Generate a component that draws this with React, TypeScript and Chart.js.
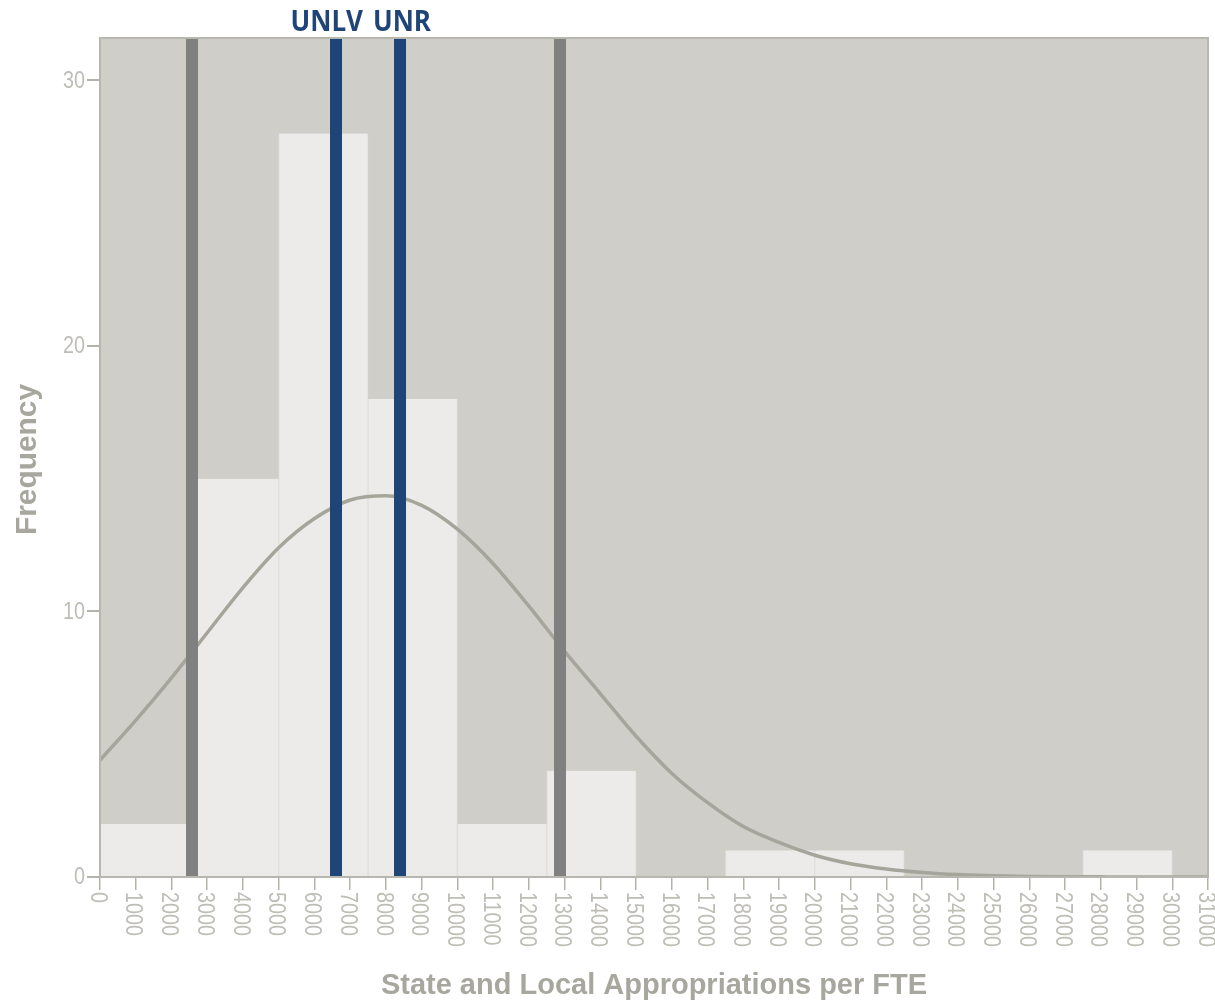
import React, { useEffect, useRef } from 'react';
import { Chart, registerables } from 'chart.js';

Chart.register(...registerables);

// Histogram bins (State and Local Appropriations per FTE)
const binEdges = [0, 2500, 5000, 7500, 10000, 12500, 15000, 17500, 20000, 22500, 25000, 27500, 30000];
const binCounts = [2, 15, 28, 18, 2, 4, 0, 1, 1, 0, 0, 1];

// Fitted normal curve
const curveX = [0, 1000, 2000, 3000, 4000, 5000, 6000, 7000, 8000, 9000, 10000, 11000, 12000, 13000, 14000, 15000,
  16000, 17000, 18000, 19000, 20000, 21000, 22000, 23000, 24000, 25000, 26000, 27000, 28000, 29000, 30000, 31000];
const curveY = [4.4, 5.9, 7.5, 9.2, 10.9, 12.4, 13.5, 14.2, 14.36, 14.0, 13.1, 11.8, 10.2, 8.5, 6.9, 5.3,
  3.9, 2.8, 1.9, 1.3, 0.82, 0.5, 0.3, 0.17, 0.09, 0.05, 0.02, 0.01, 0.005, 0, 0, 0];

// Reference lines
const sdLines = [2574, 12870];
const campusLines = [6603, 8394];
const campusLabels = ['UNLV', 'UNR'];

// Axes
const xTickValues = [0, 1000, 2000, 3000, 4000, 5000, 6000, 7000, 8000, 9000, 10000, 11000, 12000, 13000, 14000, 15000,
  16000, 17000, 18000, 19000, 20000, 21000, 22000, 23000, 24000, 25000, 26000, 27000, 28000, 29000, 30000, 31000];
const xTickLabels = ['0', '1000', '2000', '3000', '4000', '5000', '6000', '7000', '8000', '9000', '10000', '11000',
  '12000', '13000', '14000', '15000', '16000', '17000', '18000', '19000', '20000', '21000', '22000', '23000', '24000',
  '25000', '26000', '27000', '28000', '29000', '30000', '31000'];
const yTickValues = [0, 10, 20, 30];
const yTickLabels = ['0', '10', '20', '30'];
const xMin = 0;
const xMax = 31000;
const yMax = 31.6;
const xTitle = 'State and Local Appropriations per FTE';
const yTitle = 'Frequency';

export default function App() {
  const ref = useRef<HTMLCanvasElement>(null);

  useEffect(() => {
    const canvas = ref.current;
    if (!canvas) return;

    const tickFont = '23px "Liberation Sans"';
    const tickColor = '#BEBDB6';
    const squeeze = 0.86;

    const overlay = {
      id: 'overlay',
      beforeDraw(chart: any) {
        const { ctx, chartArea: a } = chart;
        ctx.save();
        ctx.fillStyle = '#CFCEC9';
        ctx.fillRect(a.left, a.top, a.right - a.left, a.bottom - a.top);
        ctx.restore();
      },
      afterDatasetsDraw(chart: any) {
        const { ctx, chartArea: a, scales } = chart;
        const x = scales.x;
        ctx.save();
        ctx.lineWidth = 12;
        ctx.lineCap = 'butt';
        ctx.strokeStyle = '#808080';
        sdLines.forEach((v) => {
          const px = x.getPixelForValue(v);
          ctx.beginPath();
          ctx.moveTo(px, a.top);
          ctx.lineTo(px, a.bottom);
          ctx.stroke();
        });
        ctx.strokeStyle = '#1F4477';
        campusLines.forEach((v) => {
          const px = x.getPixelForValue(v);
          ctx.beginPath();
          ctx.moveTo(px, a.top);
          ctx.lineTo(px, a.bottom);
          ctx.stroke();
        });
        // frame
        ctx.lineWidth = 2;
        ctx.strokeStyle = '#B8B7AF';
        ctx.strokeRect(a.left, a.top, a.right - a.left, a.bottom - a.top);

        // campus labels
        const p1 = x.getPixelForValue(campusLines[0]);
        const p2 = x.getPixelForValue(campusLines[1]);
        const mid = (p1 + p2) / 2;
        ctx.fillStyle = '#1F4477';
        ctx.font = 'bold 28px "Open Sans"';
        ctx.textBaseline = 'alphabetic';
        ctx.save();
        ctx.translate(mid - 5, 31);
        ctx.scale(0.93, 1);
        ctx.textAlign = 'right';
        ctx.fillText(campusLabels[0], 0, 0);
        ctx.restore();
        ctx.save();
        ctx.translate(mid + 5, 31);
        ctx.scale(0.93, 1);
        ctx.textAlign = 'left';
        ctx.fillText(campusLabels[1], 0, 0);
        ctx.restore();
        ctx.restore();
      },
      afterDraw(chart: any) {
        const { ctx, chartArea: a, scales } = chart;
        const x = scales.x;
        const y = scales.y;
        ctx.save();
        ctx.fillStyle = tickColor;
        ctx.font = tickFont;
        // x tick labels, rotated clockwise
        ctx.textAlign = 'left';
        ctx.textBaseline = 'middle';
        xTickValues.forEach((v, i) => {
          const px = x.getPixelForValue(v);
          ctx.save();
          ctx.translate(px - 3, a.bottom + 15);
          ctx.rotate(Math.PI / 2);
          ctx.scale(squeeze, 1);
          ctx.fillText(xTickLabels[i], 0, 0);
          ctx.restore();
        });
        // y tick labels
        ctx.textAlign = 'right';
        ctx.textBaseline = 'middle';
        yTickValues.forEach((v, i) => {
          const py = y.getPixelForValue(v);
          ctx.save();
          ctx.translate(a.left - 15, py + 1);
          ctx.scale(squeeze, 1);
          ctx.fillText(yTickLabels[i], 0, 0);
          ctx.restore();
        });
        // axis titles
        ctx.fillStyle = '#A8A79F';
        ctx.font = 'bold 29px "Liberation Sans"';
        ctx.textAlign = 'center';
        ctx.textBaseline = 'alphabetic';
        ctx.fillText(xTitle, (a.left + a.right) / 2, 994);
        ctx.save();
        ctx.translate(36, (a.top + a.bottom) / 2 + 2);
        ctx.rotate(-Math.PI / 2);
        ctx.scale(1.03, 1);
        ctx.fillText(yTitle, 0, 0);
        ctx.restore();
        ctx.restore();
      },
    };

    const chart = new Chart(canvas, {
      type: 'bar',
      data: {
        datasets: [
          {
            type: 'line',
            data: curveX.map((v, i) => ({ x: v, y: curveY[i] })),
            xAxisID: 'x',
            yAxisID: 'y',
            borderColor: '#A6A59C',
            borderWidth: 3.5,
            pointRadius: 0,
            fill: false,
            cubicInterpolationMode: 'monotone',
            order: 0,
          } as any,
          {
            type: 'bar',
            data: binCounts.map((c, i) => ({ x: (binEdges[i] + binEdges[i + 1]) / 2, y: c })),
            xAxisID: 'xb',
            yAxisID: 'y',
            backgroundColor: '#ECEBE9',
            borderColor: '#E0DFDB',
            borderWidth: { top: 0, bottom: 0, left: 1, right: 1 },
            borderSkipped: false,
            grouped: false,
            barPercentage: 1,
            categoryPercentage: 1,
            order: 1,
          } as any,
        ],
      },
      options: {
        responsive: false,
        animation: false,
        layout: { padding: { left: 0, top: 38, right: 7, bottom: 0 } },
        plugins: {
          legend: { display: false },
          tooltip: { enabled: false },
        },
        scales: {
          x: {
            type: 'linear',
            min: xMin,
            max: xMax,
            offset: false,
            afterBuildTicks: (s: any) => {
              s.ticks = xTickValues.map((v) => ({ value: v }));
            },
            afterFit: (s: any) => {
              s.height = 125;
            },
            ticks: { display: false },
            grid: {
              display: true,
              offset: false,
              drawOnChartArea: false,
              drawTicks: true,
              tickLength: 13,
              color: '#B4B3AB',
              lineWidth: 1.5,
            },
            border: { display: false },
          },
          xb: {
            type: 'linear',
            display: false,
            offset: false,
            min: xMin,
            max: xMax,
            grid: { offset: false },
            afterBuildTicks: (s: any) => {
              s.ticks = binEdges.map((v) => ({ value: v }));
            },
          },
          y: {
            type: 'linear',
            min: 0,
            max: yMax,
            afterBuildTicks: (s: any) => {
              s.ticks = yTickValues.map((v) => ({ value: v }));
            },
            afterFit: (s: any) => {
              s.width = 100;
            },
            ticks: { display: false },
            grid: {
              display: true,
              drawOnChartArea: false,
              drawTicks: true,
              tickLength: 13,
              color: '#B4B3AB',
              lineWidth: 2,
            },
            border: { display: false },
          },
        },
      } as any,
      plugins: [overlay],
    });

    return () => chart.destroy();
  }, []);

  return (
    <div style={{ position: 'absolute', left: 0, top: 0, width: 1215, height: 1002, background: '#FFFFFF' }}>
      <canvas ref={ref} width={1215} height={1002} />
    </div>
  );
}
